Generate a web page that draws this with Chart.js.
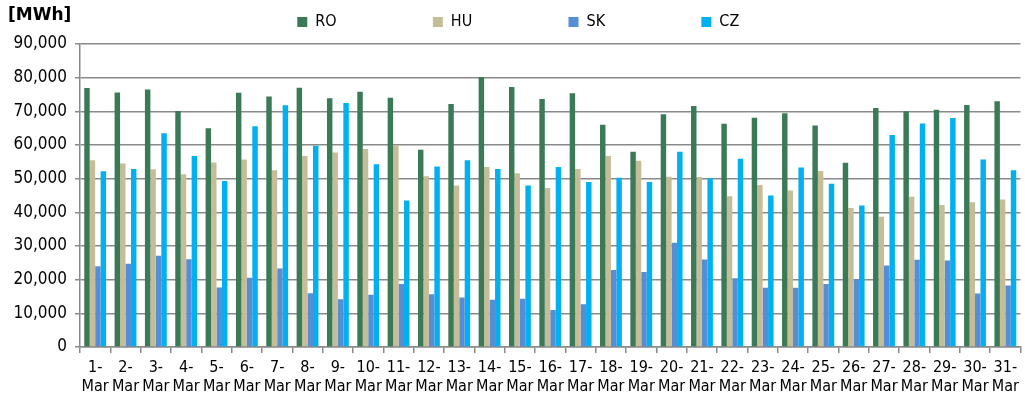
<!DOCTYPE html>
<html>
<head>
<meta charset="utf-8">
<script src="https://cdn.jsdelivr.net/npm/chart.js@4"></script>
<style>
  html, body { margin: 0; padding: 0; background: #fff; }
  #wrap { width: 1025px; height: 401px; }
</style>
</head>
<body>
<div id="wrap"><canvas id="mainChart"></canvas></div>
<script>
// Data
const days = ['1-', '2-', '3-', '4-', '5-', '6-', '7-', '8-', '9-', '10-', '11-', '12-', '13-', '14-', '15-', '16-',
    '17-', '18-', '19-', '20-', '21-', '22-', '23-', '24-', '25-', '26-', '27-', '28-', '29-', '30-', '31-'];
const month = 'Mar';
const seriesNames = ['RO', 'HU', 'SK', 'CZ'];

const roValues = [76900, 75600, 76500, 70100, 65000, 75500, 74400, 77000, 73900, 75800, 74000, 58600, 72200, 80200, 77200, 73700,
    75400, 66000, 58000, 69100, 71600, 66300, 68100, 69400, 65800, 54700, 71000, 70000, 70500, 71900, 73000];
const huValues = [55500, 54500, 52800, 51300, 54800, 55700, 52500, 56700, 57800, 58800, 60000, 50700, 48000, 53500, 51600, 47200,
    52900, 56700, 55300, 50600, 50500, 44800, 48100, 46500, 52300, 41300, 38700, 44600, 42200, 43000, 43800];
const skValues = [24000, 24700, 27100, 26100, 17700, 20600, 23300, 16000, 14200, 15500, 18700, 15700, 14700, 14000, 14300, 11000,
    12700, 22900, 22300, 31000, 26000, 20400, 17600, 17600, 18700, 20100, 24200, 25900, 25700, 15900, 18300];
const czValues = [52200, 52900, 63500, 56700, 49300, 65600, 71800, 59800, 72500, 54300, 43500, 53600, 55500, 52900, 48000, 53500,
    49000, 50300, 49000, 58000, 50100, 55900, 45000, 53300, 48500, 42000, 63000, 66400, 68000, 55700, 52500];

const seriesColors = ['#3b7a57', '#c4bd97', '#558ed5', '#00b0f0'];
const gridColor = '#8a8a8a';
const fontFamily = '"DejaVu Sans Condensed", "DejaVu Sans", Verdana, sans-serif';

// Unit label in the top left corner
const unitLabel = {
    id: 'unitLabel',
    afterDraw(chart) {
        const ctx = chart.ctx;
        ctx.save();
        ctx.font = 'bold 17px "DejaVu Sans", Verdana, sans-serif';
        ctx.fillStyle = '#000';
        ctx.textBaseline = 'middle';
        ctx.fillText('[MWh]', 8, 16);
        ctx.restore();
    }
};

function initializeChart() {
    const ctx = document.getElementById('mainChart').getContext('2d');
    const allValues = [roValues, huValues, skValues, czValues];

    new Chart(ctx, {
        type: 'bar',
        data: {
            labels: days.map(d => [d, month]),
            datasets: seriesNames.map((name, i) => ({
                label: name,
                data: allValues[i],
                backgroundColor: seriesColors[i],
                borderWidth: 0,
                categoryPercentage: 0.72,
                barPercentage: 1.0
            }))
        },
        options: {
            responsive: true,
            maintainAspectRatio: false,
            animation: false,
            layout: { padding: { top: 0, right: 3, bottom: 0, left: 0 } },
            plugins: {
                tooltip: { enabled: false },
                // empty title used as a small spacer under the legend
                title: {
                    display: true,
                    text: '',
                    weight: 500,
                    font: { size: 1, lineHeight: 1 },
                    padding: { top: 0, bottom: 3 }
                },
                legend: {
                    position: 'top',
                    fullSize: false,
                    labels: {
                        boxWidth: 10,
                        boxHeight: 10,
                        padding: 14,
                        color: '#000',
                        font: { family: fontFamily, size: 16 },
                        // widen the gaps between legend items like the original
                        generateLabels(chart) {
                            const items = Chart.defaults.plugins.legend.labels.generateLabels(chart);
                            items.forEach((item, i) => {
                                item.text = item.text + '\u00a0'.repeat(i < items.length - 1 ? 18 : 14);
                            });
                            return items;
                        }
                    }
                }
            },
            scales: {
                x: {
                    grid: {
                        offset: true,
                        drawOnChartArea: false,
                        drawTicks: true,
                        tickLength: 6,
                        color: gridColor,
                        lineWidth: 1.5
                    },
                    border: { color: gridColor, width: 1.5 },
                    ticks: {
                        color: '#000',
                        padding: 6,
                        maxRotation: 0,
                        autoSkip: false,
                        font: { family: fontFamily, size: 16, lineHeight: 1.15 }
                    },
                    afterFit(scale) { scale.height = 54; }
                },
                y: {
                    min: 0,
                    max: 90000,
                    grid: {
                        color: gridColor,
                        lineWidth: 1.5,
                        tickLength: 5
                    },
                    border: { color: gridColor, width: 1.5 },
                    ticks: {
                        stepSize: 10000,
                        color: '#000',
                        padding: 8,
                        font: { family: fontFamily, size: 17 },
                        callback: value => value.toLocaleString('en-US')
                    },
                    afterFit(scale) { scale.width = 80; }
                }
            }
        },
        plugins: [unitLabel]
    });
}

document.addEventListener('DOMContentLoaded', initializeChart);
</script>
</body>
</html>
